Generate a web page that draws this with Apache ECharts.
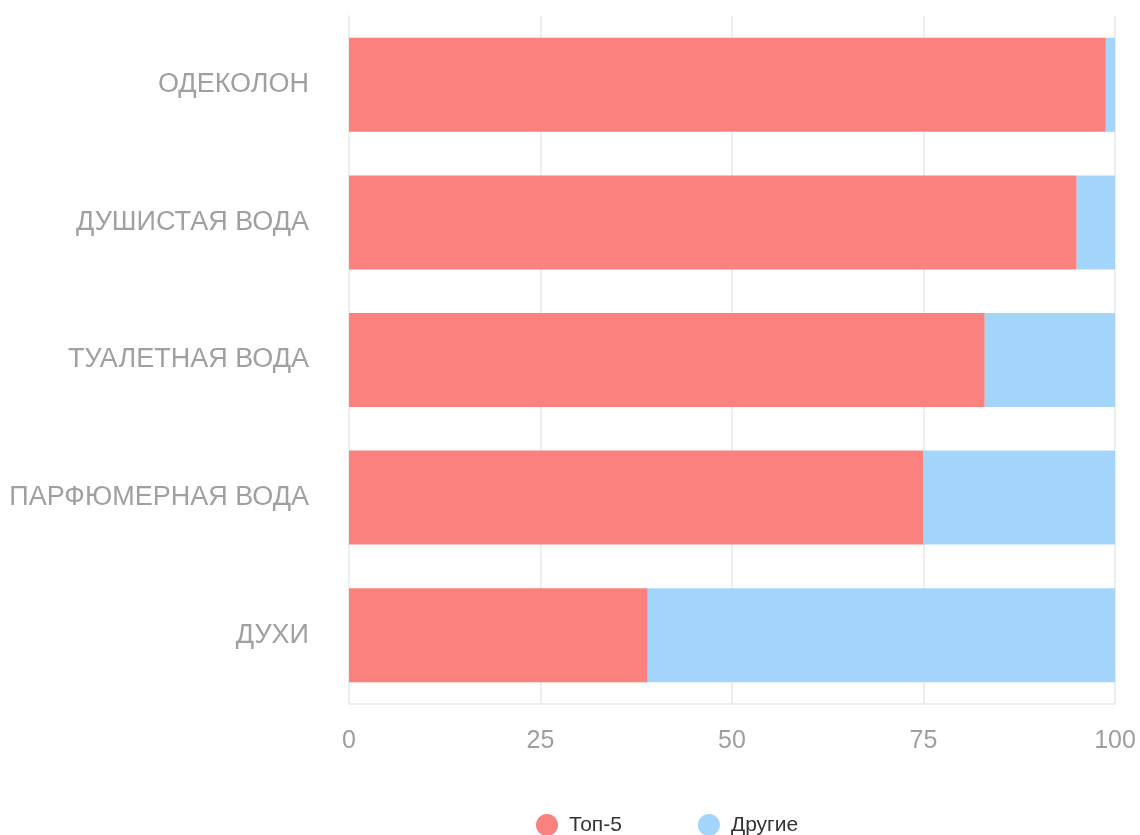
<!DOCTYPE html>
<html><head><meta charset="utf-8">
<script src="https://cdn.jsdelivr.net/npm/echarts@6/dist/echarts.min.js"></script>
<style>html,body{margin:0;padding:0;background:#fff}#c{width:1140px;height:835px}</style>
</head><body><div id="c"></div>
<script>
var categories = ['ДУХИ','ПАРФЮМЕРНАЯ ВОДА','ТУАЛЕТНАЯ ВОДА','ДУШИСТАЯ ВОДА','ОДЕКОЛОН'];
var top5 = [39, 75, 83, 95, 98.8];
var others = [61, 25, 17, 5, 1.2];
var xTicks = [0, 25, 50, 75, 100];
var chart = echarts.init(document.getElementById('c'));
chart.setOption({
  animation: false,
  textStyle: {fontFamily: 'Liberation Sans, Arial, sans-serif'},
  grid: {left: 349, right: 25, top: 16, bottom: 131},
  legend: {
    top: 814, left: 536, padding: 0, itemGap: 76, itemWidth: 22, itemHeight: 22, icon: 'circle',
    textStyle: {fontSize: 21, color: '#333', fontFamily: 'Liberation Sans, Arial, sans-serif', padding: [0, 0, 0, 6]},
    data: ['Топ-5', 'Другие']
  },
  xAxis: {
    type: 'value', min: xTicks[0], max: xTicks[xTicks.length-1], interval: 25,
    axisLine: {show: true, lineStyle: {color: '#eeeeee', width: 2}},
    axisTick: {show: false},
    splitLine: {show: true, lineStyle: {color: '#eeeeee', width: 2}},
    axisLabel: {fontSize: 25, color: '#9e9e9e', margin: 25}
  },
  yAxis: {
    type: 'category', data: categories,
    axisLine: {show: true, lineStyle: {color: '#eeeeee', width: 2}},
    axisTick: {show: false},
    axisLabel: {fontSize: 27, color: '#a0a0a0', margin: 40, padding: [5, 0, 0, 0]}
  },
  series: [
    {name: 'Топ-5', type: 'bar', stack: 's', data: top5, barWidth: 94, itemStyle: {color: '#FA817D'}},
    {name: 'Другие', type: 'bar', stack: 's', data: others, barWidth: 94, itemStyle: {color: '#A3D5FB'}}
  ]
});
</script></body></html>
